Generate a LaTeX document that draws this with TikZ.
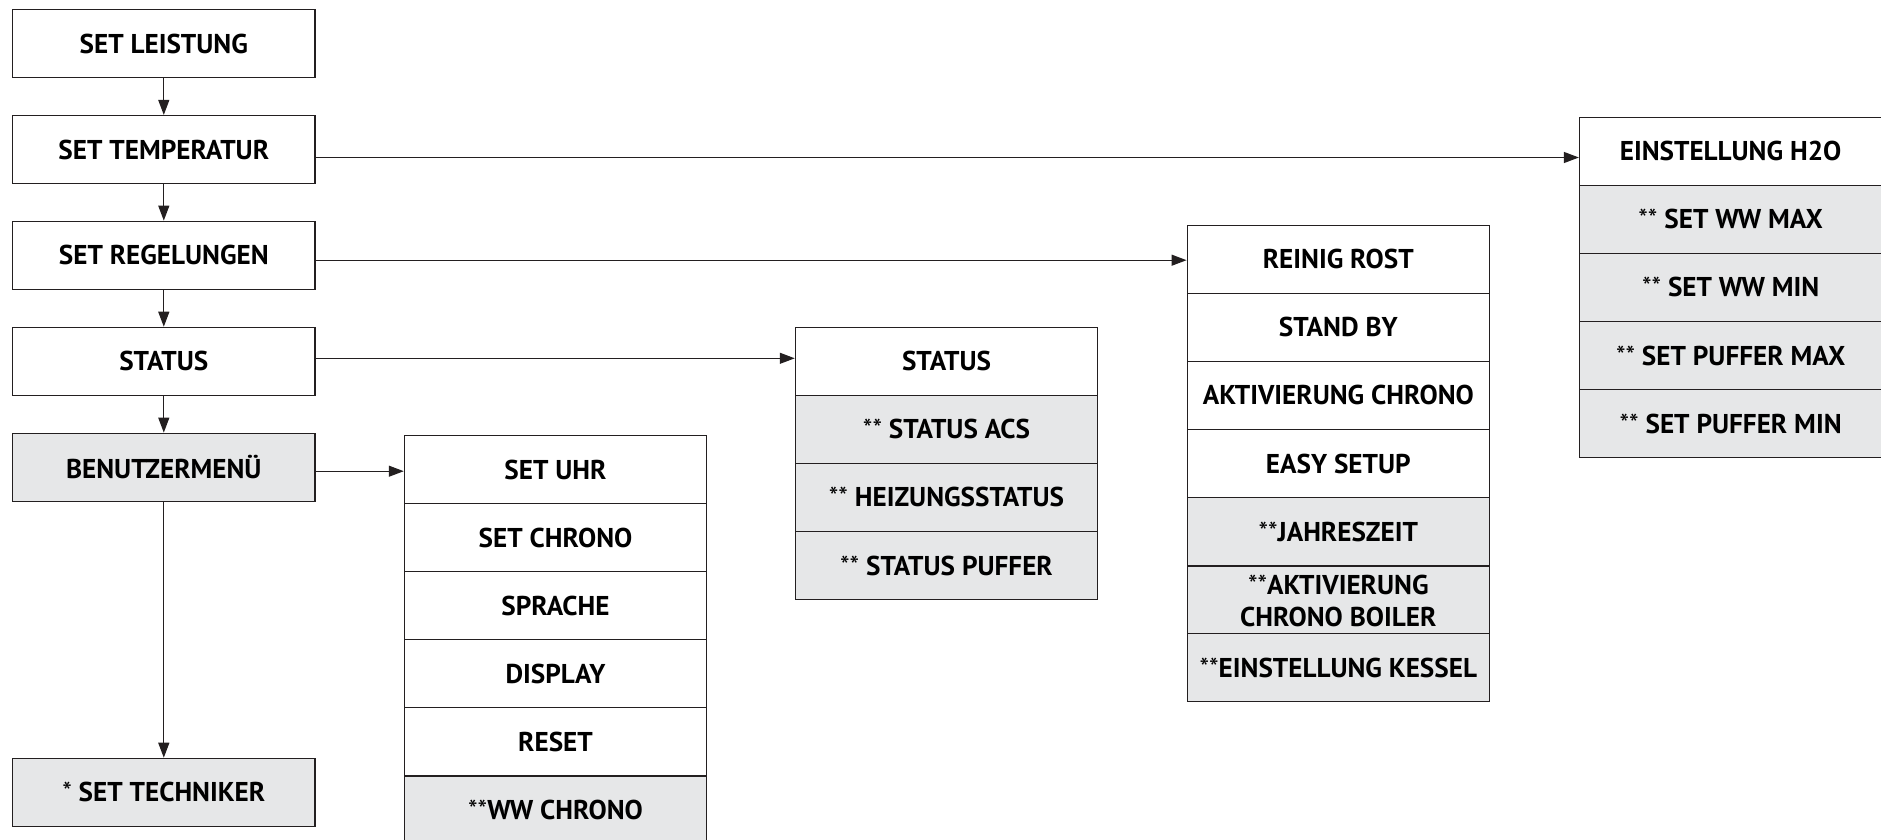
\documentclass[tikz,border=0pt]{standalone}
\usepackage{fontspec}
\setmainfont{PT Sans}
\usetikzlibrary{arrows.meta}
\definecolor{lineC}{HTML}{231F20}
\definecolor{grayC}{HTML}{E6E7E8}
\newcommand{\st}[1]{{\mdseries #1}}
\tikzset{
  rowbox/.style={draw=lineC, line width=1.1pt, fill=white, minimum width=302.4pt,
    minimum height=68.06pt, inner sep=0pt, align=center,
    font=\fontsize{27.2}{32}\selectfont\bfseries},
  grayrow/.style={rowbox, fill=grayC},
  arr/.style={draw=lineC, line width=1.2pt, -{Triangle[length=15pt,width=11pt]}}
}
\begin{document}
\begin{tikzpicture}[x=1pt,y=-1pt]
\useasboundingbox (0,0) rectangle (1881,840);
% left column
\node[rowbox] (leist) at (163.8,43.7) {SET LEISTUNG};
\node[rowbox] (temp) at (163.8,149.5) {SET TEMPERATUR};
\node[rowbox] (regel) at (163.8,255.2) {SET REGELUNGEN};
\node[rowbox] (stat) at (163.8,361.3) {STATUS};
\node[grayrow] (benutz) at (163.8,467.2) {BENUTZERMENÜ};
\node[grayrow] (tech) at (163.8,792.3) {\st{*} SET TECHNIKER};
% Benutzermenue column
\node[rowbox] (uhr) at (555.5,469.7) {SET UHR};
\node[rowbox] (chrono) at (555.5,537.8) {SET CHRONO};
\node[rowbox] (sprache) at (555.5,605.8) {SPRACHE};
\node[rowbox] (display) at (555.5,673.9) {DISPLAY};
\node[rowbox] (reset) at (555.5,741.9) {RESET};
\node[grayrow] (wwchrono) at (555.5,810.0) {\st{**}WW CHRONO};
% Status column
\node[rowbox] (status2) at (946.5,361.3) {STATUS};
\node[grayrow] (acs) at (946.5,429.4) {\st{**} STATUS ACS};
\node[grayrow] (heiz) at (946.5,497.4) {\st{**} HEIZUNGSSTATUS};
\node[grayrow] (puffer) at (946.5,565.5) {\st{**} STATUS PUFFER};
% Regelungen column
\node[rowbox] (rost) at (1338.3,259.3) {REINIG ROST};
\node[rowbox] (standby) at (1338.3,327.4) {STAND BY};
\node[rowbox] (aktchrono) at (1338.3,395.4) {AKTIVIERUNG CHRONO};
\node[rowbox] (easy) at (1338.3,463.5) {EASY SETUP};
\node[grayrow] (jahr) at (1338.3,531.5) {\st{**}JAHRESZEIT};
\node[grayrow] (boiler) at (1338.3,600.6) {\st{**}AKTIVIERUNG\\CHRONO BOILER};
\node[grayrow] (kessel) at (1338.3,667.6) {\st{**}EINSTELLUNG KESSEL};
% Temperatur column
\node[rowbox] (h2o) at (1730.6,151.3) {EINSTELLUNG H2O};
\node[grayrow] (wwmax) at (1730.6,219.4) {\st{**} SET WW MAX};
\node[grayrow] (wwmin) at (1730.6,287.4) {\st{**} SET WW MIN};
\node[grayrow] (pmax) at (1730.6,355.5) {\st{**} SET PUFFER MAX};
\node[grayrow] (pmin) at (1730.6,423.5) {\st{**} SET PUFFER MIN};
% vertical arrows
\draw[arr] (leist.south) -- (temp.north);
\draw[arr] (temp.south) -- (regel.north);
\draw[arr] (regel.south) -- (stat.north);
\draw[arr] (stat.south) -- (benutz.north);
\draw[arr] (benutz.south) -- (tech.north);
% horizontal arrows
\draw[arr] ([yshift=-8pt]temp.east) -- ([yshift=-8pt]temp.east -| h2o.west);
\draw[arr] ([yshift=-5pt]regel.east) -- ([yshift=-5pt]regel.east -| rost.west);
\draw[arr] ([yshift=3pt]stat.east) -- ([yshift=3pt]stat.east -| status2.west);
\draw[arr] ([yshift=-4pt]benutz.east) -- ([yshift=-4pt]benutz.east -| uhr.west);
\end{tikzpicture}
\end{document}
